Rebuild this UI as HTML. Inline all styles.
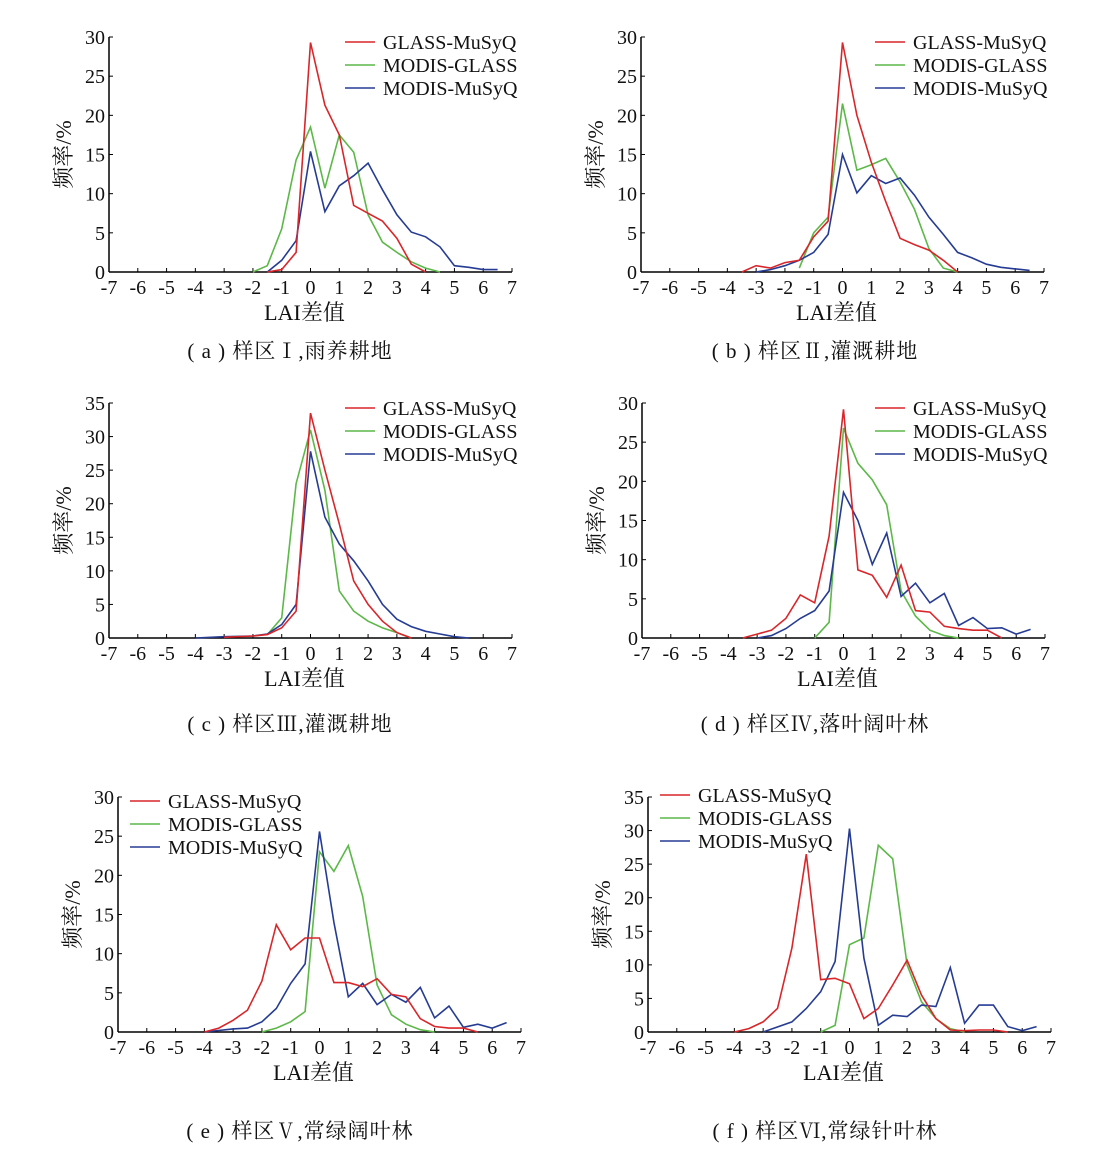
<!DOCTYPE html>
<html><head><meta charset="utf-8"><style>
html,body{margin:0;padding:0;background:#fff;}
svg{display:block;}
text{font-family:"Liberation Serif","Noto Serif CJK SC",serif;fill:#111;}
</style></head><body>
<svg id="s" width="1110" height="1156" xmlns="http://www.w3.org/2000/svg"></svg>
<script>
const P=[
{x0:109,x1:512,y0:272,y1:37,max:30,lx:345,ly:42,cap:"( a ) 样区Ⅰ,雨养耕地",cx:290,cy:350,
r:[[-1.5,0],[-1,0.3],[-0.5,2.5],[0,29.3],[0.5,21.3],[1,17.5],[1.5,8.5],[2,7.5],[2.5,6.5],[3,4.3],[3.5,1],[4,0]],
g:[[-2,0],[-1.5,0.8],[-1,5.5],[-0.5,14.3],[0,18.5],[0.5,10.7],[1,17.5],[1.5,15.3],[2,7.3],[2.5,3.8],[3,2.5],[3.5,1.3],[4,0.5],[4.5,0]],
b:[[-1.5,0],[-1,1.5],[-0.5,4],[0,15.4],[0.5,7.7],[1,11],[1.5,12.3],[2,13.9],[2.5,10.5],[3,7.3],[3.5,5.1],[4,4.5],[4.5,3.2],[5,0.8],[5.5,0.6],[6,0.3],[6.5,0.3]]},
{x0:641,x1:1044,y0:272,y1:37,max:30,lx:875,ly:42,cap:"( b ) 样区Ⅱ,灌溉耕地",cx:815,cy:350,
r:[[-3.5,0],[-3,0.8],[-2.5,0.5],[-2,1.2],[-1.5,1.5],[-1,4.5],[-0.5,6.5],[0,29.3],[0.5,20],[1,14],[1.5,9],[2,4.3],[2.5,3.5],[3,2.8],[3.5,1.5],[4,0]],
g:[[-1.5,0.5],[-1,5],[-0.5,7],[0,21.5],[0.5,13],[1,13.7],[1.5,14.5],[2,11.5],[2.5,8],[3,3],[3.5,0.5],[4,0]],
b:[[-3,0],[-2.5,0.3],[-2,0.8],[-1.5,1.5],[-1,2.5],[-0.5,4.8],[0,15],[0.5,10.1],[1,12.3],[1.5,11.3],[2,12],[2.5,9.8],[3,7],[3.5,4.8],[4,2.5],[4.5,1.8],[5,1],[5.5,0.6],[6,0.4],[6.5,0.2]]},
{x0:109,x1:512,y0:638,y1:403,max:35,lx:345,ly:408,cap:"( c ) 样区Ⅲ,灌溉耕地",cx:290,cy:723,
r:[[-3,0.1],[-2,0.3],[-1.5,0.5],[-1,1.5],[-0.5,4],[0,33.5],[0.5,25],[1,17],[1.5,8.5],[2,5],[2.5,2.5],[3,0.8],[3.5,0]],
g:[[-1.5,0.5],[-1,3],[-0.5,23],[0,31],[0.5,22],[1,7],[1.5,4],[2,2.5],[2.5,1.5],[3,0.8],[3.5,0]],
b:[[-4,0],[-3,0.2],[-2,0.3],[-1.5,0.6],[-1,2],[-0.5,5],[0,27.8],[0.5,18],[1,14],[1.5,11.5],[2,8.5],[2.5,5],[3,2.8],[3.5,1.7],[4,1],[4.5,0.6],[5,0.2],[5.5,0]]},
{x0:642,x1:1045,y0:638,y1:403,max:30,lx:875,ly:408,cap:"( d ) 样区Ⅳ,落叶阔叶林",cx:815,cy:723,
r:[[-3.5,0],[-3,0.5],[-2.5,1],[-2,2.5],[-1.5,5.5],[-1,4.5],[-0.5,13],[0,29.2],[0.5,8.7],[1,8],[1.5,5.2],[2,9.3],[2.5,3.5],[3,3.3],[3.5,1.5],[4,1.2],[4.5,1],[5,1],[5.5,0]],
g:[[-1,0],[-0.5,2],[0,26.8],[0.5,22.3],[1,20.2],[1.5,17],[2,6],[2.5,2.8],[3,1],[3.5,0.3],[4,0]],
b:[[-3,0],[-2.5,0.3],[-2,1.2],[-1.5,2.5],[-1,3.5],[-0.5,6],[0,18.6],[0.5,15],[1,9.4],[1.5,13.4],[2,5.3],[2.5,7],[3,4.5],[3.5,5.7],[4,1.6],[4.5,2.6],[5,1.2],[5.5,1.3],[6,0.5],[6.5,1.1]]},
{x0:118,x1:521,y0:1032,y1:797,max:30,lx:130,ly:801,cap:"( e ) 样区Ⅴ,常绿阔叶林",cx:300,cy:1130,
r:[[-4,0],[-3.5,0.5],[-3,1.5],[-2.5,2.8],[-2,6.5],[-1.5,13.7],[-1,10.5],[-0.5,12],[0,12],[0.5,6.3],[1,6.3],[1.5,5.8],[2,6.8],[2.5,4.8],[3,4.5],[3.5,1.7],[4,0.7],[4.5,0.5],[5,0.5],[5.5,0]],
g:[[-2,0],[-1.5,0.5],[-1,1.3],[-0.5,2.6],[0,23],[0.5,20.5],[1,23.8],[1.5,17.3],[2,6],[2.5,2.2],[3,1],[3.5,0.3],[4,0]],
b:[[-4,0],[-3,0.4],[-2.5,0.5],[-2,1.3],[-1.5,3],[-1,6.2],[-0.5,8.7],[0,25.6],[0.5,14],[1,4.5],[1.5,6.2],[2,3.5],[2.5,4.8],[3,3.8],[3.5,5.7],[4,1.8],[4.5,3.3],[5,0.6],[5.5,1],[6,0.5],[6.5,1.2]]},
{x0:648,x1:1051,y0:1032,y1:797,max:35,lx:660,ly:795,cap:"( f ) 样区Ⅵ,常绿针叶林",cx:825,cy:1130,
r:[[-4,0],[-3.5,0.5],[-3,1.5],[-2.5,3.5],[-2,12.5],[-1.5,26.5],[-1,7.8],[-0.5,8],[0,7.2],[0.5,2],[1,3.5],[1.5,7],[2,10.7],[2.5,5.5],[3,2],[3.5,0.3],[4,0.2],[4.5,0.3],[5,0.3],[5.5,0]],
g:[[-1,0],[-0.5,1],[0,13],[0.5,14],[1,27.8],[1.5,25.8],[2,10],[2.5,4.5],[3,2],[3.5,0.5],[4,0]],
b:[[-3,0],[-2,1.5],[-1.5,3.5],[-1,6],[-0.5,10.5],[0,30.3],[0.5,11],[1,1],[1.5,2.5],[2,2.3],[2.5,4],[3,3.8],[3.5,9.6],[4,1.3],[4.5,4],[5,4],[5.5,0.8],[6,0.2],[6.5,0.8]]}
];
const C={r:"#d9262a",g:"#5cb848",b:"#263c93"};
let h="";
for(const p of P){
 const sx=v=>p.x0+(v+7)*(p.x1-p.x0)/14, sy=v=>p.y0-v*(p.y0-p.y1)/p.max;
 h+=`<line x1="${p.x0}" y1="${p.y0}" x2="${p.x1}" y2="${p.y0}" stroke="#000" stroke-width="1.5"/>`;
 h+=`<line x1="${p.x0}" y1="${p.y0}" x2="${p.x0}" y2="${p.y1}" stroke="#000" stroke-width="1.5"/>`;
 for(let i=-7;i<=7;i++){const x=sx(i);h+=`<line x1="${x}" y1="${p.y0}" x2="${x}" y2="${p.y0-4}" stroke="#000"/><text x="${x}" y="${p.y0+22}" font-size="20" text-anchor="middle">${i<0?"-"+(-i):i}</text>`;}
 for(let v=0;v<=p.max;v+=5){const y=sy(v);h+=`<line x1="${p.x0}" y1="${y}" x2="${p.x0+4}" y2="${y}" stroke="#000"/><text x="${p.x0-4}" y="${y+7}" font-size="20" text-anchor="end">${v}</text>`;}
 for(const k of ["g","b","r"]){h+=`<polyline fill="none" stroke="${C[k]}" stroke-width="1.6" points="${p[k].map(q=>sx(q[0]).toFixed(1)+","+sy(q[1]).toFixed(1)).join(" ")}"/>`;}
 const L=[["r","GLASS-MuSyQ"],["g","MODIS-GLASS"],["b","MODIS-MuSyQ"]];
 L.forEach((l,i)=>{const y=p.ly+i*23;h+=`<line x1="${p.lx}" y1="${y}" x2="${p.lx+30}" y2="${y}" stroke="${C[l[0]]}" stroke-width="1.6"/><text x="${p.lx+38}" y="${y+7}" font-size="20">${l[1]}</text>`;});
 const mx=(p.x0+p.x1)/2-6, my=(p.y0+p.y1)/2;
 h+=`<text transform="translate(${p.x0-38},${my}) rotate(-90)" font-size="22" text-anchor="middle">频率/%</text>`;
 h+=`<text x="${mx}" y="${p.y0+48}" font-size="22" text-anchor="middle">LAI差值</text>`;
 h+=`<text x="${p.cx}" y="${p.cy+8}" font-size="21" text-anchor="middle" letter-spacing="1">${p.cap}</text>`;
}
document.getElementById("s").innerHTML=h;
</script>
</body></html>
